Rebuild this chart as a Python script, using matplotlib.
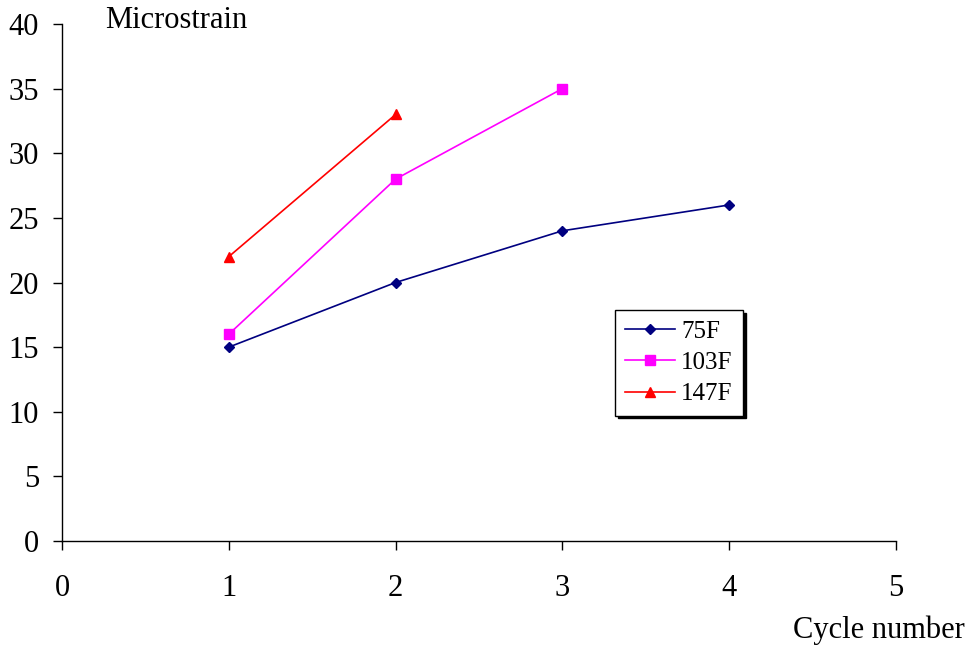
import matplotlib
matplotlib.use("Agg")
import matplotlib.pyplot as plt

plt.rcParams['font.family'] = ['Liberation Serif', 'DejaVu Serif']

cycles_75 = [1, 2, 3, 4]
strain_75 = [15, 20, 24, 26]
cycles_103 = [1, 2, 3]
strain_103 = [16, 28, 35]
cycles_147 = [1, 2]
strain_147 = [22, 33]

x_ticks = [0, 1, 2, 3, 4, 5]
y_ticks = [0, 5, 10, 15, 20, 25, 30, 35, 40]

fig = plt.figure(figsize=(9.73, 6.5), dpi=100)
ax = fig.add_axes([62/973, 1 - 541/650, (896 - 62)/973, (541 - 24)/650])

ax.plot(cycles_75, strain_75, color='#000080', marker='D', markersize=5, lw=1.2, label='75F')
ax.plot(cycles_103, strain_103, color='#FF00FF', marker='s', markersize=7, lw=1.2, label='103F')
ax.plot(cycles_147, strain_147, color='#FF0000', marker='^', markersize=7, lw=1.2, label='147F')

ax.set_xlim(0, 5)
ax.set_ylim(0, 40)
ax.set_xticks(x_ticks)
ax.set_yticks(y_ticks)
ax.spines['top'].set_visible(False)
ax.spines['right'].set_visible(False)
for s in ('left', 'bottom'):
    ax.spines[s].set_linewidth(1.0)
ax.tick_params(axis='both', direction='out', length=6.5, width=1, labelsize=22, colors='black')
ax.tick_params(axis='x', pad=17)
ax.tick_params(axis='y', pad=10)

fig.text(105/973, 1 - 20/650, 'Microstrain', fontsize=22, ha='left', va='center')
fig.text(965/973, 1 - 630/650, 'Cycle number', fontsize=22, ha='right', va='center')

leg = ax.legend(loc='upper left', bbox_to_anchor=((615 - 62)/834, (541 - 310)/517),
                frameon=True, fancybox=False, shadow={'color': 'black', 'alpha': 1},
                fontsize=18, handlelength=2.0, borderpad=0.4, labelspacing=0.36,
                handletextpad=0.25, borderaxespad=0)
leg.get_frame().set_edgecolor('black')
leg.get_frame().set_linewidth(1.0)

fig.savefig('out.png', dpi=100, facecolor='white')
